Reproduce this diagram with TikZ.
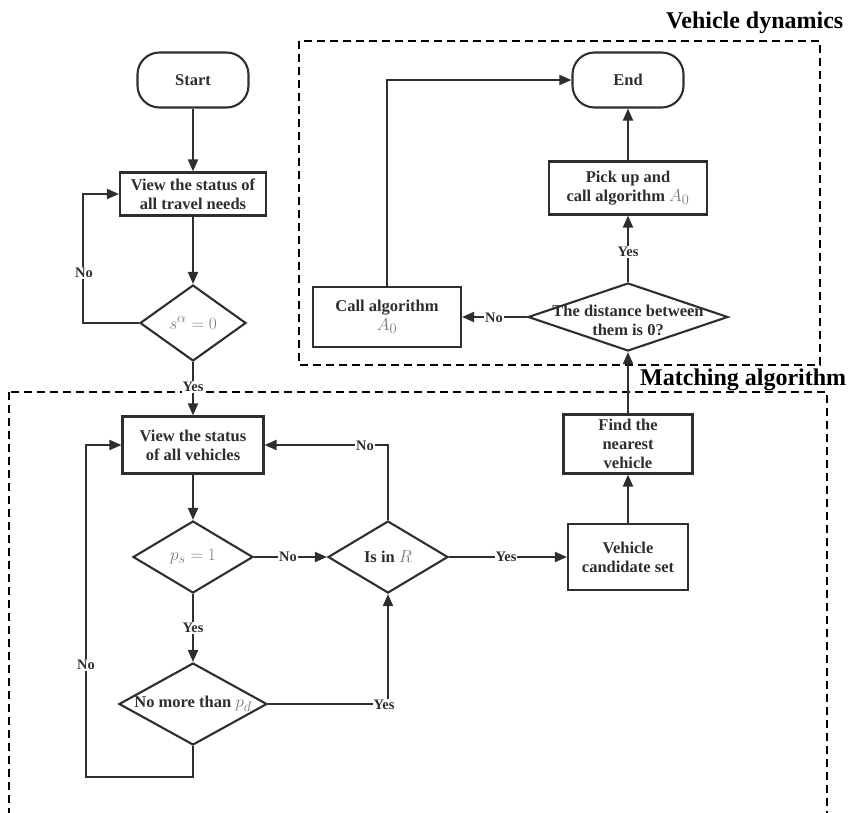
\documentclass[tikz,border=0pt]{standalone}
\usepackage{fontspec}
\setmainfont{Liberation Serif}
\usetikzlibrary{shapes.geometric,arrows.meta}
\definecolor{ink}{HTML}{2E2E2E}
\definecolor{mgray}{HTML}{7A7A7A}
\newcommand\mth[1]{{\fontsize{19}{19}\selectfont\color{mgray}$#1$}}
\begin{document}
\begin{tikzpicture}[x=1pt,y=-1pt,
  nodefont/.style={font=\bfseries\fontsize{16.5}{19}\selectfont},
  box/.style={draw=ink, line width=2.1pt, rectangle, inner sep=0pt, align=center, nodefont, text=ink},
  term/.style={box, rounded corners=22pt},
  dia/.style={draw=ink, line width=2.1pt, diamond, inner sep=0pt},
  txt/.style={align=center, nodefont, text=ink, inner sep=0pt},
  lbl/.style={fill=white, inner sep=1pt, font=\bfseries\fontsize{14.5}{14.5}\selectfont, text=ink},
  conn/.style={draw=ink, line width=2pt, -{Triangle[length=12pt,width=10pt]}},
  region/.style={draw=black, line width=2.4pt, dash pattern=on 8pt off 5pt},
  title/.style={font=\bfseries\fontsize{24}{24}\selectfont, text=black, inner sep=0pt, anchor=base west}]
\useasboundingbox (0,0) rectangle (850,812);
% regions
\draw[region] (299,41) rectangle (820,365);
\begin{scope}
  \clip (0,0) rectangle (850,812);
  \draw[region] (9,392) rectangle (827,840);
\end{scope}
\node[title] (t1) at (666,28) {Vehicle dynamics};
\node[title] (t2) at (640,385) {Matching algorithm};
% left column
\node[term, minimum width=111pt, minimum height=55pt] (start) at (193,80) {Start};
\node[box, minimum width=146pt, minimum height=43pt] (view1) at (193,194) {View the status of\\all travel needs};
\node[dia, minimum width=106pt, minimum height=76pt] (d1) at (193,323) {};
\node[txt] (d1t) at (d1) {\mth{s^\alpha=0}};
\node[box, minimum width=141pt, minimum height=57pt] (view2) at (193,445) {View the status\\of all vehicles};
\node[dia, minimum width=120pt, minimum height=72pt] (d2) at (193,557) {};
\node[txt] (d2t) at (d2) {\mth{p_s=1}};
\node[dia, minimum width=120pt, minimum height=72pt] (dR) at (388,557) {};
\node[txt] (dRt) at (dR) {Is in \mth{R}};
\node[dia, minimum width=148pt, minimum height=82pt] (d3) at (193,704) {};
\node[txt] (d3t) at (d3) {No more than \mth{p_d}};
% right column
\node[box, minimum width=120pt, minimum height=66pt] (cand) at (628,557) {Vehicle\\candidate set};
\node[box, minimum width=129pt, minimum height=59pt] (find) at (628,444) {Find the\\nearest\\vehicle};
\node[dia, minimum width=200pt, minimum height=68pt] (dist) at (628,317) {};
\node[txt] (distt) at (628,320) {The distance between\\them is 0?};
\node[box, minimum width=158pt, minimum height=53pt] (pick) at (628,188) {Pick up and\\call algorithm \mth{A_0}};
\node[term, minimum width=111pt, minimum height=55pt] (end) at (628,80) {End};
\node[box, minimum width=148pt, minimum height=60pt] (call) at (387,317) {Call algorithm\\\mth{A_0}};
% connectors
\coordinate (lt) at (83,323);
\coordinate (lb) at (86,777);
\draw[conn] (start) -- (view1);
\draw[conn] (view1) -- (d1);
\draw[conn] (d1.west) -- (lt) |- (view1.west);
\draw[conn] (d1) -- (view2);
\draw[conn] (view2) -- (d2);
\draw[conn] (d2) -- (d3);
\draw[conn] (d2) -- (dR);
\draw[conn] (d3.south) |- (lb) |- (view2.west);
\draw[conn] (d3.east) -| (dR.south);
\draw[conn] (dR.north) |- (view2.east);
\draw[conn] (dR) -- (cand);
\draw[conn] (cand) -- (find);
\draw[conn] (find) -- (dist);
\draw[conn] (dist) -- (pick);
\draw[conn] (pick) -- (end);
\draw[conn] (dist) -- (call);
\draw[conn] (call.north) |- (end.west);
% labels
\node[lbl] (l1) at (84,273) {No};
\node[lbl] (l2) at (193,387) {Yes};
\node[lbl] (l3) at (193,628) {Yes};
\node[lbl] (l4) at (288,557) {No};
\node[lbl] (l5) at (86,665) {No};
\node[lbl] (l6) at (384,705) {Yes};
\node[lbl] (l7) at (365,446) {No};
\node[lbl] (l8) at (506,557) {Yes};
\node[lbl] (l9) at (628,252) {Yes};
\node[lbl] (l10) at (494,318) {No};
\end{tikzpicture}
\end{document}
